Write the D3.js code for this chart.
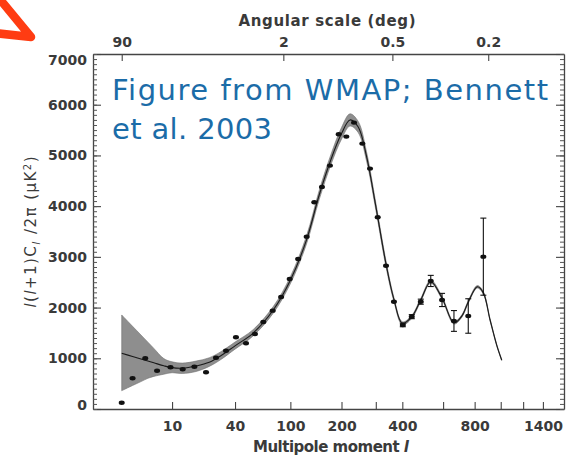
<!DOCTYPE html>
<html>
<head>
<meta charset="utf-8">
<script src="https://cdn.jsdelivr.net/npm/d3@7"></script>
<style>
body { margin: 0; background: #fff; }
svg { display: block; }
</style>
</head>
<body>
<script>
var width = 567, height = 458;

// binned WMAP points: multipole l, l(l+1)C_l/2pi in uK^2, 1-sigma error
var dataL = [2, 3, 4.6, 6.6, 9.6, 13.1, 17.3, 22.4, 27.6, 33.7, 40.7, 48.8, 57, 65.6, 76.3, 87, 99, 112,
    126.4, 140.4, 155.6, 172.8, 193.1, 212.3, 233, 257, 281, 306.5, 336, 366,
    402, 441, 483, 533, 594, 664, 756, 863];
var dataD = [124, 606, 1000, 755, 822, 783, 834, 724, 1012, 1150, 1414, 1296, 1479, 1716, 1939, 2209, 2564, 2959,
    3398, 4077, 4379, 4799, 5418, 5371, 5647, 5233, 4740, 3781, 2826, 2116,
    1657, 1821, 2116, 2525, 2150, 1736, 1834, 3004];
var dataErr = [0, 0, 0, 0, 0, 0, 0, 0, 0, 0, 0, 0, 0, 0, 0, 0, 0, 0,
    0, 0, 0, 0, 0, 0, 0, 0, 0, 0, 0, 0,
    35, 40, 50, 110, 130, 205, 340, 760];

// best fit model and the grey band around it
var modelL = [2, 3, 4, 5, 6, 8, 10, 13, 18, 24, 30, 40, 55, 77, 100, 126, 150, 175, 200, 222, 245, 270,
    300, 336, 366, 400, 440, 483, 533, 594, 664, 713, 756, 819, 863, 914, 967, 1008];
var modelD = [1099, 1036, 986, 945, 911, 852, 815, 805, 848, 920, 1040, 1245, 1493, 1953, 2540, 3330, 4220, 4920, 5430, 5700, 5560, 4980,
    4000, 2860, 2160, 1690, 1810, 2150, 2510, 2190, 1700, 1830, 2110, 2410, 2290, 1760, 1260, 966];
var bandLo = [361, 463, 540, 605, 643, 686, 716, 700, 740, 840, 965, 1180, 1435, 1890, 2470, 3250, 4130, 4820, 5320, 5580, 5450, 4890,
    3930, 2800, 2120, 1660, 1780, 2120, 2480, 2160, 1675, 1805, 2085, 2385, 2265, 1740, 1245, 955];
var bandHi = [1854, 1631, 1460, 1318, 1195, 994, 930, 905, 945, 1010, 1120, 1320, 1560, 2020, 2610, 3410, 4310, 5020, 5550, 5820, 5670, 5070,
    4070, 2920, 2200, 1720, 1840, 2180, 2540, 2220, 1725, 1855, 2135, 2435, 2315, 1780, 1275, 977];

// ticks
var yMajor = [0, 1000, 2000, 3000, 4000, 5000, 6000, 7000];
var xTicks = [10, 40, 100, 200, 300, 400, 600, 800, 1000, 1200, 1400];
var xLabels = ["10", "40", "100", "200", "", "400", "", "800", "", "", "1400"];
var angTicks = [90, 2, 0.5, 0.2];
var angLabels = ["90", "2", "0.5", "0.2"];

var plotL = 93, plotR = 564, plotT = 54, plotB = 409;
var ink = "#3a3a3a";

var svg = d3.select("body").append("svg")
    .attr("width", width)
    .attr("height", height);

// l^0.25 stretch like the original plot
var x = d3.scalePow().exponent(0.25).domain([0.53, 1640]).range([plotL, plotR]);
var y = d3.scaleLinear().domain([0, 7000]).range([plotB, plotT]);

// red arrow pointing at the corner
svg.append("path")
    .attr("d", "M-2,-3 L31,37 L-6,33")
    .attr("fill", "none")
    .attr("stroke", "#ff3c12")
    .attr("stroke-width", 8.5)
    .attr("stroke-linecap", "round")
    .attr("stroke-linejoin", "round");

// band
var band = d3.area()
    .x(function (d, i) { return x(modelL[i]); })
    .y0(function (d, i) { return y(bandLo[i]); })
    .y1(function (d, i) { return y(bandHi[i]); })
    .curve(d3.curveCatmullRom);
svg.append("path")
    .datum(modelL)
    .attr("d", band)
    .attr("fill", "#8e8e8e")
    .attr("stroke", "#707070")
    .attr("stroke-width", 0.6);

// model curve
var line = d3.line()
    .x(function (d, i) { return x(modelL[i]); })
    .y(function (d, i) { return y(modelD[i]); })
    .curve(d3.curveCatmullRom);
svg.append("path")
    .datum(modelL)
    .attr("d", line)
    .attr("fill", "none")
    .attr("stroke", "#1a1a1a")
    .attr("stroke-width", 1.1);

// error bars
var pts = dataL.map(function (l, i) { return { l: l, v: dataD[i], e: dataErr[i] }; });
var eb = svg.append("g").attr("stroke", "#111").attr("stroke-width", 1.1);
pts.filter(function (d) { return d.e > 0; }).forEach(function (d) {
    var cx = x(d.l);
    eb.append("line").attr("x1", cx).attr("x2", cx).attr("y1", y(d.v - d.e)).attr("y2", y(d.v + d.e));
    eb.append("line").attr("x1", cx - 3).attr("x2", cx + 3).attr("y1", y(d.v - d.e)).attr("y2", y(d.v - d.e));
    eb.append("line").attr("x1", cx - 3).attr("x2", cx + 3).attr("y1", y(d.v + d.e)).attr("y2", y(d.v + d.e));
});

svg.append("g")
    .selectAll("ellipse")
    .data(pts)
    .enter().append("ellipse")
    .attr("cx", function (d) { return x(d.l); })
    .attr("cy", function (d) { return y(d.v); })
    .attr("rx", 3)
    .attr("ry", 2.2)
    .attr("fill", "#111");

// axes
function styleAxis(g) {
    g.select(".domain").attr("stroke", "#444").attr("stroke-width", 1.3);
    g.selectAll(".tick line").attr("stroke", "#444").attr("stroke-width", 1.1);
    g.selectAll("text")
        .attr("fill", ink)
        .style("font-family", "DejaVu Sans")
        .style("font-weight", "bold")
        .style("font-size", "14px");
}

var gBottom = svg.append("g")
    .attr("transform", "translate(0," + plotB + ")")
    .call(d3.axisBottom(x).tickValues(xTicks)
        .tickFormat(function (d, i) { return xLabels[i]; })
        .tickSize(-7).tickSizeOuter(0).tickPadding(12));
styleAxis(gBottom);

var gTop = svg.append("g")
    .attr("transform", "translate(0," + plotT + ")")
    .call(d3.axisTop(x).tickValues(angTicks.map(function (a) { return 180 / a; }))
        .tickFormat(function (d, i) { return angLabels[i]; })
        .tickSize(-7).tickSizeOuter(0).tickPadding(7));
styleAxis(gTop);

var gLeft = svg.append("g")
    .attr("transform", "translate(" + plotL + ",0)")
    .call(d3.axisLeft(y).tickValues(yMajor).tickFormat(d3.format("d"))
        .tickSize(-8).tickSizeOuter(0).tickPadding(6));
styleAxis(gLeft);
gLeft.selectAll(".tick text").attr("transform", function (d) {
    if (d === 7000) return "translate(0,6)";
    if (d === 0) return "translate(0,-4)";
    return null;
});

var gLeftMinor = svg.append("g")
    .attr("transform", "translate(" + plotL + ",0)")
    .call(d3.axisLeft(y).tickValues(d3.range(0, 7001, 100)).tickSize(-4).tickFormat(""));
gLeftMinor.select(".domain").remove();
gLeftMinor.selectAll(".tick line").attr("stroke", "#555");

var gRight = svg.append("g")
    .attr("transform", "translate(" + plotR + ",0)")
    .call(d3.axisRight(y).tickValues(yMajor).tickSize(-8).tickSizeOuter(0).tickFormat(""));
styleAxis(gRight);
var gRightMinor = svg.append("g")
    .attr("transform", "translate(" + plotR + ",0)")
    .call(d3.axisRight(y).tickValues(d3.range(0, 7001, 100)).tickSize(-4).tickFormat(""));
gRightMinor.select(".domain").remove();
gRightMinor.selectAll(".tick line").attr("stroke", "#555");

// axis titles
svg.append("text")
    .attr("x", 327).attr("y", 26)
    .attr("text-anchor", "middle")
    .attr("textLength", 177)
    .attr("fill", ink)
    .style("font-family", "DejaVu Sans")
    .style("font-weight", "bold")
    .style("font-size", "15px")
    .text("Angular scale (deg)");

var xt = svg.append("text")
    .attr("x", 331).attr("y", 452)
    .attr("text-anchor", "middle")
    .attr("textLength", 156)
    .attr("fill", ink)
    .style("font-family", "DejaVu Sans")
    .style("font-weight", "bold")
    .style("font-size", "15px");
xt.append("tspan").text("Multipole moment ");
xt.append("tspan").style("font-style", "italic").text("l");

var yt = svg.append("text")
    .attr("transform", "translate(36,232) rotate(-90)")
    .attr("text-anchor", "middle")
    .attr("textLength", 151)
    .attr("fill", ink)
    .style("font-family", "DejaVu Sans")
    .style("font-size", "15px");
yt.append("tspan").style("font-style", "italic").text("l");
yt.append("tspan").text("(");
yt.append("tspan").style("font-style", "italic").text("l");
yt.append("tspan").text("+1)C");
yt.append("tspan").attr("dy", 4).style("font-size", "11px").style("font-style", "italic").text("l");
yt.append("tspan").attr("dy", -4).text(" /2\u03c0 (\u03bcK");
yt.append("tspan").attr("dy", -5).style("font-size", "10px").text("2");
yt.append("tspan").attr("dy", 5).text(")");

// blue annotation
var note = svg.append("g")
    .attr("fill", "#1b6ca8")
    .style("font-family", "DejaVu Sans")
    .style("font-size", "29px");
note.append("text").attr("x", 112).attr("y", 100).attr("textLength", 436).text("Figure from WMAP; Bennett");
note.append("text").attr("x", 112).attr("y", 139).attr("textLength", 160).text("et al. 2003");
</script>
</body>
</html>
